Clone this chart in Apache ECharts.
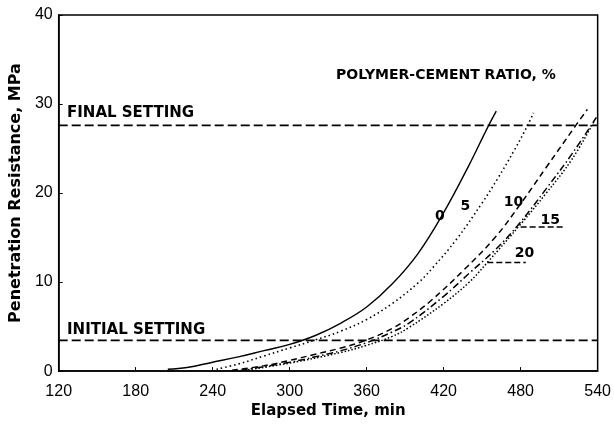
<!DOCTYPE html>
<html>
<head>
<meta charset="utf-8">
<script src="https://cdn.jsdelivr.net/npm/echarts@6/dist/echarts.min.js"></script>
<style>
  html, body { margin:0; padding:0; background:#fff; }
  #chart { width:614px; height:424px; }
</style>
</head>
<body>
<div id="chart"></div>
<script>
// ---- data ----
const ratioLabels = ['0', '5', '10', '15', '20'];

const time_0 = [205, 220, 240, 260, 280, 300, 320, 340, 360, 380, 400, 420, 440, 454, 461];
const mpa_0  = [0.2, 0.4, 1.0, 1.6, 2.3, 3.0, 4.0, 5.4, 7.2, 9.8, 13.2, 17.8, 23.2, 27.3, 29.2];

const time_5 = [243, 260, 280, 300, 320, 340, 360, 380, 400, 412, 430, 450, 462, 475, 484, 490];
const mpa_5  = [0.2, 0.8, 1.7, 2.6, 3.5, 4.5, 5.8, 7.6, 9.9, 11.7, 14.8, 18.9, 21.6, 24.8, 27.2, 29.0];

const time_10 = [255, 280, 300, 320, 340, 360, 380, 393, 410, 436, 460, 480, 500, 523, 532];
const mpa_10  = [0.1, 0.6, 1.2, 1.9, 2.6, 3.5, 4.8, 6.0, 7.9, 11.4, 15.0, 18.8, 22.9, 27.6, 29.4];

const time_15 = [262, 280, 300, 320, 340, 360, 380, 393, 420, 440, 460, 478, 500, 520, 539];
const mpa_15  = [0.1, 0.5, 1.0, 1.6, 2.3, 3.2, 4.4, 5.4, 8.4, 11.0, 13.6, 16.4, 20.5, 24.4, 28.5];

const time_20 = [265, 300, 340, 360, 380, 393, 420, 440, 454, 480, 500, 520, 537];
const mpa_20  = [0.1, 0.9, 2.1, 2.9, 3.9, 4.9, 7.6, 10.0, 12.2, 16.5, 20.0, 23.8, 28.0];

const FINAL_SETTING = 27.6;
const INITIAL_SETTING = 3.45;

const xTicks = [120, 180, 240, 300, 360, 420, 480, 540];
const yTicks = [0, 10, 20, 30, 40];

// curve label anchors (time, MPa)
const labelTime = [417, 437, 474.4, 503, 483];
const labelMpa  = [17.4, 18.5, 19.0, 16.9, 13.2];
// leader lines for 15 and 20
const leader15Time = [480, 513]; const leader15Mpa = [16.2, 16.2];
const leader20Time = [454, 484]; const leader20Mpa = [12.2, 12.2];

// ---- build ----
const zip = (a, b) => a.map((v, i) => [v, b[i]]);
const curves = [
  { t: time_0,  v: mpa_0,  type: 'solid', w: 1.4 },
  { t: time_5,  v: mpa_5,  type: [1.5, 3], w: 1.6 },
  { t: time_10, v: mpa_10, type: [6, 4], w: 1.5 },
  { t: time_15, v: mpa_15, type: [7, 3, 1.5, 3], w: 1.5 },
  { t: time_20, v: mpa_20, type: [1.5, 2], w: 1.5 }
];

const FONT = 'Liberation Sans, Arial, sans-serif';
const BFONT = '"DejaVu Sans", Verdana, sans-serif';
const series = curves.map((c, i) => ({
  type: 'line',
  name: ratioLabels[i],
  data: zip(c.t, c.v),
  showSymbol: false,
  smooth: 0.4,
  lineStyle: { color: '#000', width: c.w, type: c.type },
  silent: true
}));

const settingLine = (val) => ({
  type: 'line',
  data: [[xTicks[0], val], [xTicks[xTicks.length - 1], val]],
  showSymbol: false,
  lineStyle: { color: '#000', width: 1.6, type: [9, 4] },
  silent: true
});
series.push(settingLine(FINAL_SETTING));
series.push(settingLine(INITIAL_SETTING));

series.push({
  type: 'line', data: zip(leader15Time, leader15Mpa), showSymbol: false,
  lineStyle: { color: '#000', width: 1.5, type: [6, 3] }, silent: true
});
series.push({
  type: 'line', data: zip(leader20Time, leader20Mpa), showSymbol: false,
  lineStyle: { color: '#000', width: 1.5, type: [6, 3] }, silent: true
});

series.push({
  type: 'scatter',
  symbolSize: 1,
  itemStyle: { opacity: 0 },
  data: ratioLabels.map((r, i) => ({ value: [labelTime[i], labelMpa[i]], name: r })),
  label: {
    show: true, position: 'inside', formatter: p => p.name,
    color: '#000', opacity: 1, fontFamily: BFONT, fontWeight: 'bold', fontSize: 14
  },
  silent: true
});

const chart = echarts.init(document.getElementById('chart'), null, { renderer: 'canvas' });
chart.setOption({
  animation: false,
  backgroundColor: '#fff',
  grid: { left: 57, right: 13, top: 15, bottom: 44, show: true, borderColor: '#000', borderWidth: 1.5 },
  xAxis: {
    type: 'value', min: xTicks[0], max: xTicks[xTicks.length - 1], interval: 60,
    name: 'Elapsed Time, min', nameLocation: 'middle', nameGap: 28,
    nameTextStyle: { color: '#000', fontFamily: BFONT, fontWeight: 'bold', fontSize: 15 },
    axisLine: { lineStyle: { color: '#000', width: 1.5 } },
    axisTick: { inside: true, length: 4, lineStyle: { color: '#000' } },
    axisLabel: { color: '#000', fontFamily: FONT, fontSize: 16, margin: 12 },
    splitLine: { show: false }
  },
  yAxis: {
    type: 'value', min: yTicks[0], max: yTicks[yTicks.length - 1], interval: 10,
    name: 'Penetration Resistance, MPa', nameLocation: 'middle', nameGap: 30,
    nameTextStyle: { color: '#000', fontFamily: BFONT, fontWeight: 'bold', fontSize: 16 },
    axisLine: { lineStyle: { color: '#000', width: 1.5 } },
    axisTick: { inside: true, length: 4, lineStyle: { color: '#000' } },
    axisLabel: { color: '#000', fontFamily: FONT, fontSize: 16, margin: 6 },
    splitLine: { show: false }
  },
  graphic: [
    { type: 'text', left: 67, top: 106, style: { text: 'FINAL SETTING', fill: '#000', font: 'bold 15px ' + BFONT } },
    { type: 'text', left: 67, top: 323, style: { text: 'INITIAL SETTING', fill: '#000', font: 'bold 15px ' + BFONT } },
    { type: 'text', left: 336, top: 68, style: { text: 'POLYMER-CEMENT RATIO, %', fill: '#000', font: 'bold 14px ' + BFONT } }
  ],
  series: series
});
</script>
</body>
</html>
